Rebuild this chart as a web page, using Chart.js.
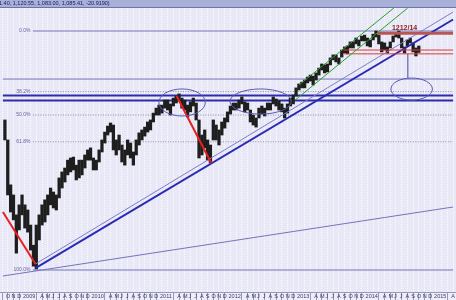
<!DOCTYPE html>
<html><head><meta charset="utf-8">
<script src="https://cdn.jsdelivr.net/npm/chart.js@4.4.1/dist/chart.umd.min.js"></script>
<style>html,body{margin:0;padding:0;background:#e8e8f6;overflow:hidden}</style>
</head><body>
<canvas id="c" width="456" height="300"></canvas>
<script>
// ---- DATA (time unit: months since 1 Oct 2008; half-month bars) ----
const barHigh = [
 758,682,538,510,459,484,510,484,471,435,
 391,435,459,484,497,510,529,518,510,558,
 576,588,613,620,623,597,613,613,630,647,
 654,620,613,647,682,711,734,746,738,682,
 700,664,647,682,671,640,682,708,719,730,
 750,758,786,807,820,820,842,842,825,851,
 860,870,851,842,820,834,851,829,758,700,
 719,682,664,758,738,719,750,766,791,816,
 829,829,842,856,834,829,799,778,766,807,
 816,807,829,829,856,847,838,825,807,825,
 851,865,898,917,926,936,951,961,956,972,
 997,1019,1014,1019,1052,1069,1069,1052,1097,1115,
 1121,1145,1145,1169,1157,1181,1187,1169,1157,1193,
 1213,1187,1145,1139,1115,1145,1181,1200,1213,1169,
 1115,1157,1169,1139,1109,1120.55];
const barLow = [
 682,510,466,447,375,424,459,428,419,381,
 350,345,402,435,442,459,484,476,471,502,
 529,546,567,576,582,552,558,567,588,613,
 613,582,582,607,640,671,700,711,647,630,
 647,607,597,630,620,597,630,664,682,696,
 711,719,750,778,778,786,807,799,778,816,
 829,842,807,799,770,791,816,758,620,630,
 654,613,604,682,682,664,700,726,750,782,
 799,799,807,825,791,799,750,738,730,766,
 782,774,799,799,825,816,799,791,766,786,
 816,825,860,888,898,898,922,931,912,936,
 961,987,972,977,1014,1041,1030,1019,1057,1080,
 1075,1109,1109,1133,1121,1151,1151,1121,1115,1157,
 1175,1133,1086,1097,1080,1109,1145,1175,1169,1109,
 1080,1121,1139,1086,1063,1083];
const barTime = barHigh.map((_, i) => i / 2);   // half-month periods from Oct 2008

const monthTicks = Array.from({length: 79}, (_, i) => i); // month starts
const monthLetters = ['J','F','M','A','M','J','J','A','S','O','N','D'];

// Fibonacci retracement
const fibHigh = 1213, fibLow = 343;
const fibLevels = [0, 0.382, 0.5, 0.618, 1];
const fibNames = ['0.0%', '38.2%', '50.0%', '61.8%', '100.0%'];
const fibStart = 4.9, axisEnd = 78.51, axisStart = -0.3545;

// horizontal levels
const levelSolid = [941];
const levelNavy = [862.6, 840.1];
const resistance = [1198];
const redBox = [1097, 1075];
const redBoxStart = 59.31;
const resistanceStart = 65.19;

// trend lines [t0, v0, t1, v1]
const thickBlue = [5.353, 346.6, 78.51, 1289];
const thinBlue = [5.353, 354, 78.51, 1341];
const lowLine = [-0.3545, 332.3, 78.51, 478.5];
const red1 = [-0.3545, 466, 5.353, 354];
const red2 = [30.08, 860, 36.14, 604];
const greenUp = [51.53, 912, 68.13, 1370];
const greenLow = [50.84, 842, 70.56, 1370];
const connector = [70.56, 1075, 70.56, 946];

// ellipses [t0, t1, vTop, vBottom]
const ellipses = [[26.97, 35.10, 893, 774], [39.42, 50.15, 893, 782], [67.61, 74.88, 946, 842]];
const peakLabel = {t: 67.79, v: 1213, text: '1212/14'};
const headerText = '1,101.40, 1,120.55, 1,083.00, 1,085.41, -20.9190)';

// ---- helpers ----
function monthLabel(m) {
  if (m !== Math.round(m)) return '';
  const idx = (9 + m) % 12;
  const year = 2008 + Math.floor((9 + m) / 12);
  if (idx === 0) return String(year);
  if (idx === 1 || idx === 2) return '';
  return monthLetters[idx];
}
function seg(a, color, width, order, dash) {
  return {type: 'line', data: [{x: a[0], y: a[1]}, {x: a[2], y: a[3]}], borderColor: color,
    borderWidth: width, borderDash: dash || [], pointRadius: 0, fill: false, tension: 0, order: order};
}

const datasets = [];
datasets.push({type: 'bar', data: barTime.map((t, i) => ({x: t, y: [barLow[i], barHigh[i]]})),
  backgroundColor: '#1e1e1e', barThickness: 2.6, order: 10, grouped: false});
fibLevels.forEach((l, i) => {
  const v = fibHigh - l * (fibHigh - fibLow);
  const solid = (l === 0 || l === 1);
  datasets.push(seg([fibStart, v, axisEnd, v], solid ? '#7474bc' : '#8e8eaa', 1, 20, solid ? [] : [1, 1.5]));
});
levelSolid.forEach(v => datasets.push(seg([axisStart, v, axisEnd, v], '#7474bc', 1, 20)));
levelNavy.forEach(v => datasets.push(seg([axisStart, v, axisEnd, v], '#2c2cac', 2, 15)));
datasets.push(seg(lowLine, '#7474bc', 1, 6));
datasets.push(seg(thinBlue, '#7e7ec8', 1, 5));
datasets.push(seg(thickBlue, '#2a2ab4', 2, 4));
datasets.push(seg(connector, '#8080c0', 1, 5));
redBox.forEach(v => datasets.push(seg([redBoxStart, v, axisEnd, v], '#d83c3c', 1, 3)));
resistance.forEach(v => datasets.push(seg([resistanceStart, v, axisEnd, v], '#b85656', 3, 3)));
datasets.push(seg(greenUp, '#28a028', 1, 2));
datasets.push(seg(greenLow, '#28a028', 1, 2));
datasets.push(seg(red1, '#e82020', 2, 1));
datasets.push(seg(red2, '#e82020', 2, 1));

const decor = {
  id: 'decor',
  beforeDraw(chart) {
    const {ctx, chartArea: a} = chart;
    ctx.save();
    ctx.fillStyle = '#e8e8f6';
    ctx.fillRect(0, 0, chart.width, chart.height);
    ctx.fillStyle = '#eeeef8';
    ctx.fillRect(0, a.bottom, chart.width, chart.height - a.bottom);
    ctx.restore();
  },
  afterDatasetsDraw(chart) {
    const {ctx} = chart;
    const xs = chart.scales.x, ys = chart.scales.y;
    ctx.save();
    ctx.strokeStyle = '#5a5ab4';
    ctx.lineWidth = 1;
    ellipses.forEach(e => {
      const x0 = xs.getPixelForValue(e[0]), x1 = xs.getPixelForValue(e[1]);
      const y0 = ys.getPixelForValue(e[2]), y1 = ys.getPixelForValue(e[3]);
      ctx.beginPath();
      ctx.ellipse((x0 + x1) / 2, (y0 + y1) / 2, (x1 - x0) / 2, (y1 - y0) / 2, 0, 0, Math.PI * 2);
      ctx.stroke();
    });
    ctx.font = '5px "Liberation Sans", Arial, sans-serif';
    ctx.fillStyle = '#6464a8';
    ctx.textAlign = 'right';
    ctx.textBaseline = 'middle';
    fibLevels.forEach((l, i) => {
      const v = fibHigh - l * (fibHigh - fibLow);
      ctx.fillText(fibNames[i], xs.getPixelForValue(fibStart) - 2.5, ys.getPixelForValue(v));
    });
    ctx.font = 'bold 7px "Liberation Sans", Arial, sans-serif';
    ctx.fillStyle = '#8a1c1c';
    ctx.textAlign = 'left';
    ctx.textBaseline = 'alphabetic';
    ctx.fillText(peakLabel.text, xs.getPixelForValue(peakLabel.t), ys.getPixelForValue(peakLabel.v) - 1.5);
    ctx.restore();
  },
  afterDraw(chart) {
    const {ctx} = chart;
    ctx.save();
    ctx.fillStyle = '#a9b0d8';
    ctx.fillRect(0, 0, chart.width, 8);
    ctx.fillStyle = '#6c74b0';
    ctx.fillRect(0, 7, chart.width, 1);
    ctx.font = '5.5px "Liberation Sans", Arial, sans-serif';
    ctx.fillStyle = '#142060';
    ctx.textBaseline = 'middle';
    ctx.fillText(headerText, -11.7, 3.8);
    ctx.restore();
  }
};

new Chart(document.getElementById('c'), {
  type: 'bar',
  data: {datasets},
  options: {
    responsive: false, animation: false, devicePixelRatio: 1,
    layout: {padding: {top: 8, left: 0, right: 0, bottom: 0}},
    plugins: {legend: {display: false}, tooltip: {enabled: false}, title: {display: false}},
    scales: {
      x: {
        type: 'linear', min: axisStart, max: axisEnd, bounds: 'data',
        afterBuildTicks: s => { s.ticks = monthTicks.map(v => ({value: v})); },
        afterFit: s => { s.height = 8; },
        grid: {
          color: 'rgba(255,255,255,0.85)', lineWidth: 1, drawTicks: true, tickLength: 8,
          tickColor: c => (c.tick && monthLabel(c.tick.value)) ? '#9898b8' : 'rgba(0,0,0,0)'
        },
        border: {display: true, color: '#9898b8', width: 1, dash: [1, 1]},
        ticks: {
          align: 'start', padding: -7, labelOffset: 1, autoSkip: false, maxRotation: 0, minRotation: 0,
          font: {size: 5.5, family: '"Liberation Sans", Arial, sans-serif'}, color: '#3a3a6a',
          callback: v => monthLabel(v)
        }
      },
      y: {type: 'logarithmic', display: false, min: 305.35, max: 1369.8, bounds: 'data'}
    }
  },
  plugins: [decor]
});
</script>
</body></html>
